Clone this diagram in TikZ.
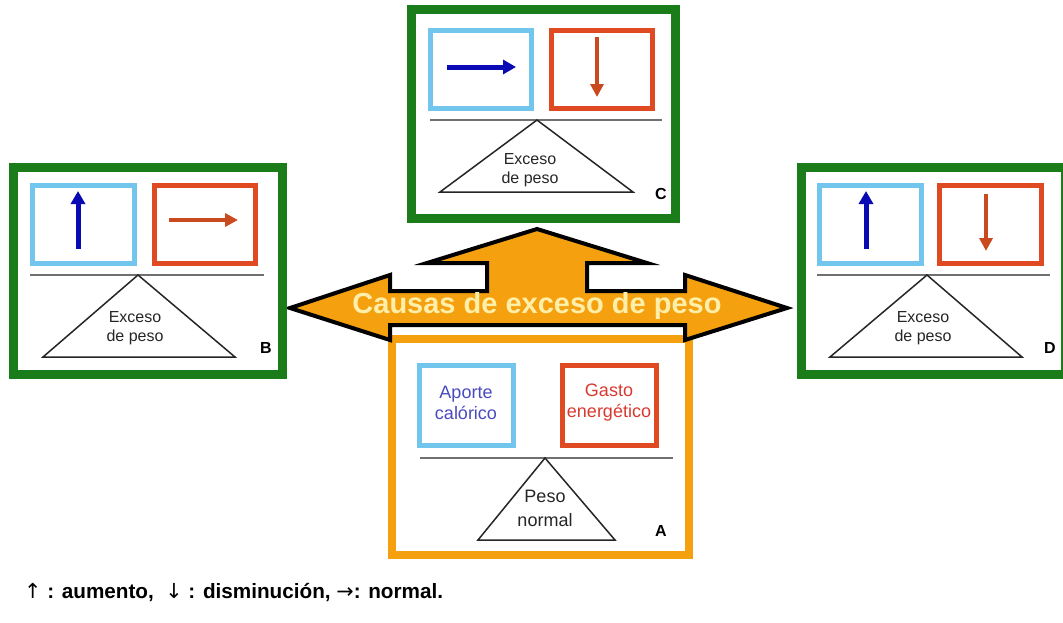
\documentclass[tikz,border=0pt]{standalone}
\usepackage{fontspec}
\setmainfont{Liberation Sans}
\newfontfamily\arrowfont{DejaVu Sans}
\usetikzlibrary{arrows.meta}
\definecolor{cgreen}{HTML}{1A7D1A}
\definecolor{corange}{HTML}{F5A00F}
\definecolor{lblue}{HTML}{72C6EE}
\definecolor{rred}{HTML}{E04A22}
\definecolor{darrblue}{HTML}{0A0AB4}
\definecolor{darrred}{HTML}{C84A1E}
\definecolor{ttext}{HTML}{FFEFA8}
\definecolor{aptext}{HTML}{4A4AC0}
\definecolor{gatext}{HTML}{D83A30}
\definecolor{divgray}{HTML}{707070}
\begin{document}
\begin{tikzpicture}[x=1pt,y=-1pt,
  gbox/.style={draw=cgreen, line width=9pt, fill=white, inner sep=0pt, outer sep=0pt},
  obox/.style={draw=corange, line width=8pt, fill=white, inner sep=0pt, outer sep=0pt},
  bbox/.style={draw=lblue, line width=5pt, inner sep=0pt, outer sep=0pt, minimum height=78pt},
  rbox/.style={draw=rred, line width=5pt, inner sep=0pt, outer sep=0pt, minimum height=78pt},
  divline/.style={draw=divgray, line width=2pt},
  tri/.style={draw=black!85, line width=1.5pt, line join=miter},
  barrow/.style={draw=darrblue, line width=5pt, -{Triangle[length=13pt,width=14pt]}},
  rarrow/.style={draw=darrred, line width=4.5pt, -{Triangle[length=13pt,width=13pt]}},
  tritext/.style={align=center, font=\fontsize{16}{19}\selectfont, text=black!85, inner sep=0pt},
  lab/.style={font=\bfseries\fontsize{16}{19}\selectfont, inner sep=0pt},
]
\useasboundingbox[fill=white] (0,0) rectangle (1063,622);

% ---------- panel A (orange) ----------
\node[obox, minimum width=297pt, minimum height=216pt] (A) at (540.5,447) {};
\node[bbox, minimum width=94pt, minimum height=80pt] (Ab) at (466,405) {};
\node[rbox, minimum width=94pt, minimum height=80pt] (Ar) at (609,405) {};
\node[align=center, font=\fontsize{18}{21}\selectfont, text=aptext, inner sep=0pt] (Abt) at (466,403) {Aporte\\cal\'orico};
\node[align=center, font=\fontsize{18}{21}\selectfont, text=gatext, inner sep=0pt] (Art) at (609,403) {Gasto\\energ\'etico};
\draw[divline] (420,458) -- (673,458);
\draw[tri] (545,458) -- (615,540) -- (478,540) -- cycle;
\node[tritext, font=\fontsize{18}{24}\selectfont] (At) at (545,508) {Peso\\normal};
\node[lab] (Al) at (661,531) {A};

% ---------- big orange arrow ----------
\draw[fill=corange, draw=black, line width=4pt, line join=miter]
  (290,308) -- (390,275) -- (390,291) -- (487,291) -- (487,263) -- (427,263)
  -- (537,229) -- (647,263) -- (587,263) -- (587,291) -- (685,291) -- (685,275)
  -- (787,308) -- (685,340) -- (685,325) -- (390,325) -- (390,340) -- cycle;
\node[font=\bfseries\fontsize{29}{32}\selectfont, text=ttext, inner sep=0pt] (title) at (537,306) {Causas de exceso de peso};

% ---------- panel C ----------
\node[gbox, minimum width=264pt, minimum height=209pt] (C) at (543,113.5) {};
\node[bbox, minimum width=101pt] (Cb) at (480.5,69) {};
\node[rbox, minimum width=101pt] (Cr) at (601.5,69) {};
\draw[barrow] (447,67) -- (516,67);
\draw[rarrow] (597,37) -- (597,97);
\draw[divline] (430,120) -- (662,120);
\draw[tri] (537,120) -- (633,192) -- (440,192) -- cycle;
\node[tritext] (Ct) at (530,170) {Exceso\\de peso};
\node[lab] (Cl) at (661,194) {C};

% ---------- panel B ----------
\node[gbox, minimum width=269pt, minimum height=207pt] (B) at (147.5,270.5) {};
\node[bbox, minimum width=102pt] (Bb) at (83,224) {};
\node[rbox, minimum width=101pt] (Br) at (204.5,224) {};
\draw[barrow] (78,249) -- (78,191);
\draw[rarrow] (169,220) -- (238,220);
\draw[divline] (30,275) -- (264,275);
\draw[tri] (138,275) -- (235,357) -- (43,357) -- cycle;
\node[tritext] (Bt) at (135,328) {Exceso\\de peso};
\node[lab] (Bl) at (266,348) {B};

% ---------- panel D ----------
\node[gbox, minimum width=264pt, minimum height=207pt] (D) at (933,270.5) {};
\node[bbox, minimum width=102pt] (Db) at (870,224) {};
\node[rbox, minimum width=102pt] (Dr) at (990,224) {};
\draw[barrow] (866,249) -- (866,191);
\draw[rarrow] (986,194) -- (986,251);
\draw[divline] (817,275) -- (1050,275);
\draw[tri] (927,275) -- (1022,357) -- (830,357) -- cycle;
\node[tritext] (Dt) at (923,328) {Exceso\\de peso};
\node[lab] (Dl) at (1050,348) {D};

% ---------- legend ----------
\node[anchor=base west, inner sep=0pt, font=\bfseries\fontsize{20.7}{24}\selectfont] (legend) at (24,598)
  {{\arrowfont\mdseries ↑} : aumento,\ \ {\arrowfont\mdseries ↓} : disminución, {\arrowfont\mdseries →}: normal.};
\end{tikzpicture}
\end{document}
